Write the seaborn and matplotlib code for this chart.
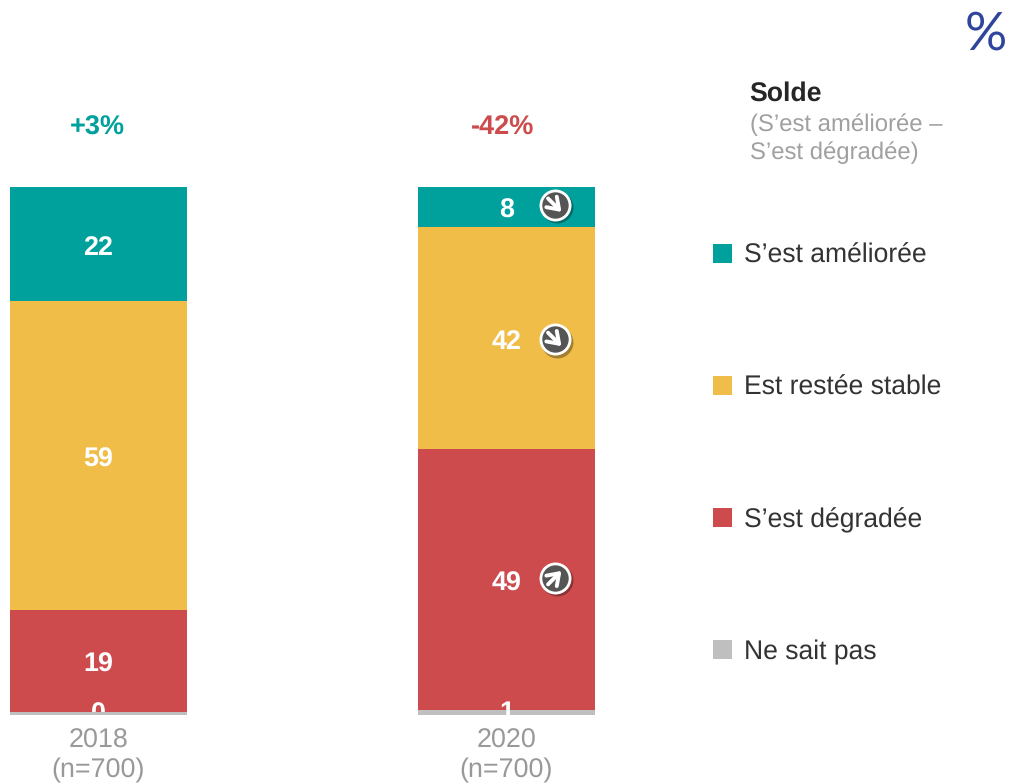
#!/usr/bin/env python3
import numpy as np
import pandas as pd
import matplotlib
matplotlib.use("Agg")
import matplotlib.pyplot as plt
from matplotlib.transforms import ScaledTranslation
import seaborn as sns

# data (segment heights, the labels are these rounded)
years = ["2018\n(n=700)", "2020\n(n=700)"]
ameliore = [21.6, 7.6]
stable = [58.6, 42.1]
degrade = [19.4, 49.4]
ne_sait = [0.4, 0.9]
soldes = ["+3%", "-42%"]
series_names = ["S\u2019est améliorée", "Est restée stable", "S\u2019est dégradée", "Ne sait pas"]

TEAL = "#00A19D"
YELLOW = "#F1BD49"
RED = "#CD4B4C"
GREY = "#BFBFBF"
colors = [TEAL, YELLOW, RED, GREY]

W, H = 1012, 783
DPI = 100

sns.set_theme(style="white")
plt.rcParams["font.family"] = ["Liberation Sans", "DejaVu Sans"]
plt.rcParams["text.hinting"] = "no_hinting"

fig = plt.figure(figsize=(W / DPI, H / DPI), dpi=DPI)
# axes runs the whole width, y=0..100 sits between the bar bottom and top
ax = fig.add_axes([0, (H - 714.5) / H, 1, (714.5 - 187) / H])

df = pd.DataFrame({"year": years, series_names[0]: ameliore, series_names[1]: stable,
                   series_names[2]: degrade, series_names[3]: ne_sait})
long_df = df.melt(id_vars="year", var_name="serie", value_name="pct")

# stack from the top down
bottom = np.array([100.0, 100.0])
mids = {}
for name, col in zip(series_names, colors):
    sub = long_df[long_df["serie"] == name]
    vals = sub["pct"].to_numpy(dtype=float)
    bottom = bottom - vals
    sns.barplot(data=sub, x="year", y="pct", order=years, color=col, saturation=1,
                width=0.434, bottom=bottom, ax=ax, linewidth=0, errorbar=None)
    mids[name] = bottom + vals / 2

ax.set_xlim(-98.5 / 408, (W - 98.5) / 408)
ax.set_ylim(0, 100)
ax.set_xlabel("")
ax.set_ylabel("")
ax.set_yticks([])
sns.despine(ax=ax, left=True, bottom=True)
ax.tick_params(axis="x", length=0, pad=10, labelsize=19.4, labelcolor="#999999")
for lab in ax.get_xticklabels():
    lab.set_linespacing(1.22)

# the 2018 "0" disappears behind the grey sliver
ax.containers[3][0].set_zorder(7)

# segment values
for name, vals in zip(series_names, [ameliore, stable, degrade, ne_sait]):
    for i, v in enumerate(vals):
        shift = -1 if name == series_names[3] else -4
        ax.annotate(f"{v:.0f}", xy=(i, mids[name][i]), xytext=(0, shift), textcoords="offset pixels",
                    ha="center", va="center", color="white", fontsize=19.4, fontweight="bold",
                    clip_on=True, zorder=6)

# solde above each bar
for i, (txt, col) in enumerate(zip(soldes, [TEAL, RED])):
    ax.annotate(txt, xy=(i, 100), xytext=(-1 - 3 * i, 59), textcoords="offset pixels",
                ha="center", va="center", color=col, fontsize=19.5, fontweight="bold")


def px(dx, dy):
    return ax.transData + ScaledTranslation(dx / DPI, dy / DPI, fig.dpi_scale_trans)


def badge(i, y, up):
    # evolution badge: round dark button with white arrow and a soft shadow
    xc = i + 0.1177
    ax.plot([xc], [y], marker="o", ms=23, mfc="black", mec="none", alpha=0.32, zorder=7,
            transform=px(2.5, -2.5), clip_on=False)
    ax.plot([xc], [y], marker="o", ms=21, mfc="#555555", mec="white", mew=2, zorder=8, clip_on=False)
    sign = 1 if up else -1
    ax.annotate("", xy=(xc, y), xycoords=px(7, sign * 7), xytext=(xc, y),
                textcoords=px(-6.5, -sign * 6.5), zorder=9,
                arrowprops=dict(arrowstyle="->,head_length=0.55,head_width=0.38", color="white",
                                lw=2.8, shrinkA=0, shrinkB=0, mutation_scale=14))


badge(1, mids[series_names[0]][1] + 0.4, False)
badge(1, mids[series_names[1]][1] - 0.2, False)
badge(1, mids[series_names[2]][1] + 0.3, True)

# legend
handles = [c[0] for c in ax.containers]
leg = ax.legend(handles, series_names, loc="upper left", bbox_to_anchor=(713 / W, 1 - 243 / H),
                bbox_transform=fig.transFigure, frameon=False, fontsize=19.1, borderpad=0,
                borderaxespad=0, handlelength=0.72, handleheight=0.72, handletextpad=0.45,
                labelspacing=4.03, labelcolor="#333333")

fig.text(749 / W, 1 - 94 / H, "Solde", fontsize=19.2, fontweight="bold", color="#262626",
         ha="left", va="center")
fig.text(750 / W, 1 - 139 / H, "(S\u2019est améliorée \u2013\nS\u2019est dégradée)", fontsize=17.2,
         color="#A0A0A0", ha="left", va="center", linespacing=1.3)
fig.text(986 / W, 1 - 35 / H, "%", fontsize=38, color="#2E459B", ha="center", va="center",
         family=["Lato", "Liberation Sans"], fontweight="normal")

fig.savefig("out.png", dpi=DPI)
